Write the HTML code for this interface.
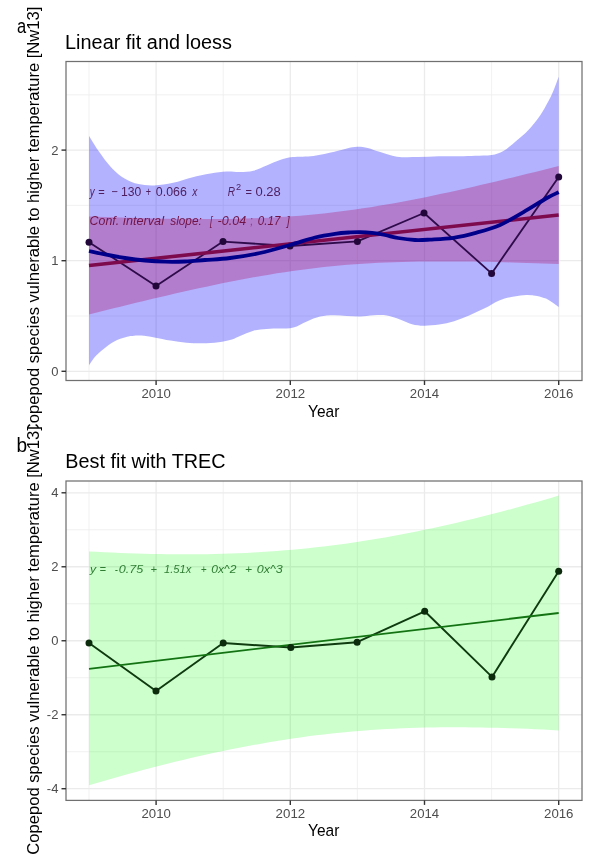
<!DOCTYPE html>
<html><head><meta charset="utf-8"><style>
html,body{margin:0;padding:0;background:#fff;}
svg{display:block;font-family:"Liberation Sans",sans-serif;will-change:transform;}
.mn{stroke:#EEEEEE;stroke-width:0.8;}
.mj{stroke:#EBEBEB;stroke-width:1.3;}
.border{fill:none;stroke:#707070;stroke-width:1.25;}
.tick{stroke:#333333;stroke-width:1.4;}
.tl{font-size:13px;fill:#4D4D4D;}
.at{font-size:16.3px;fill:#000;}
.yt{font-size:16.5px;fill:#000;}
.title{font-size:19.5px;fill:#000;}
.tag{font-size:19.5px;fill:#000;}
.eqa{fill:#4E1E5E;}
.conf{fill:#701448;}
.eqb{fill:#2E7D32;}
</style></head><body>
<svg width="599" height="856" viewBox="0 0 599 856">
<defs><clipPath id="ca"><rect x="0" y="0" width="599" height="428"/></clipPath></defs>
<rect x="0" y="0" width="599" height="856" fill="#fff"/>
<g>
<line x1="89.00" y1="61.50" x2="89.00" y2="380.50" class="mn"/>
<line x1="223.20" y1="61.50" x2="223.20" y2="380.50" class="mn"/>
<line x1="357.40" y1="61.50" x2="357.40" y2="380.50" class="mn"/>
<line x1="491.60" y1="61.50" x2="491.60" y2="380.50" class="mn"/>
<line x1="66.00" y1="316.00" x2="582.00" y2="316.00" class="mn"/>
<line x1="66.00" y1="205.40" x2="582.00" y2="205.40" class="mn"/>
<line x1="66.00" y1="94.80" x2="582.00" y2="94.80" class="mn"/>
<line x1="156.10" y1="61.50" x2="156.10" y2="380.50" class="mj"/>
<line x1="290.30" y1="61.50" x2="290.30" y2="380.50" class="mj"/>
<line x1="424.50" y1="61.50" x2="424.50" y2="380.50" class="mj"/>
<line x1="558.70" y1="61.50" x2="558.70" y2="380.50" class="mj"/>
<line x1="66.00" y1="371.30" x2="582.00" y2="371.30" class="mj"/>
<line x1="66.00" y1="260.70" x2="582.00" y2="260.70" class="mj"/>
<line x1="66.00" y1="150.10" x2="582.00" y2="150.10" class="mj"/>
<path d="M89.00,136.00 C90.57,138.45 94.62,145.37 98.40,150.70 C102.18,156.03 107.27,163.32 111.70,168.00 C116.13,172.68 120.55,176.12 125.00,178.80 C129.45,181.48 133.50,183.00 138.40,184.10 C143.30,185.20 148.62,185.62 154.40,185.40 C160.18,185.18 166.87,184.13 173.10,182.80 C179.33,181.47 185.57,178.97 191.80,177.40 C198.03,175.83 204.70,174.38 210.50,173.40 C216.30,172.42 221.68,171.72 226.60,171.50 C231.52,171.28 235.53,172.23 240.00,172.10 C244.47,171.97 248.95,171.82 253.40,170.70 C257.85,169.58 262.27,167.18 266.70,165.40 C271.13,163.62 275.68,161.38 280.00,160.00 C284.32,158.62 287.02,157.78 292.60,157.10 C298.18,156.42 306.55,156.80 313.50,155.90 C320.45,155.00 328.73,152.95 334.30,151.70 C339.87,150.45 343.07,149.23 346.90,148.40 C350.73,147.57 353.83,146.78 357.30,146.70 C360.77,146.62 363.87,147.00 367.70,147.90 C371.53,148.80 375.43,150.63 380.30,152.10 C385.17,153.57 390.65,155.87 396.90,156.70 C403.15,157.53 410.83,157.17 417.80,157.10 C424.77,157.03 431.75,156.43 438.70,156.30 C445.65,156.17 453.43,156.38 459.50,156.30 C465.57,156.22 469.73,156.02 475.10,155.80 C480.47,155.58 486.98,155.80 491.70,155.00 C496.42,154.20 499.23,153.42 503.40,151.00 C507.57,148.58 512.53,143.98 516.70,140.50 C520.87,137.02 524.50,134.27 528.40,130.10 C532.30,125.93 536.75,120.35 540.10,115.50 C543.45,110.65 546.27,105.17 548.50,101.00 C550.73,96.83 551.80,94.55 553.50,90.50 C555.20,86.45 557.83,79.00 558.70,76.70 L558.70,307.10 C557.67,306.35 554.62,304.02 552.50,302.60 C550.38,301.18 548.58,299.72 546.00,298.60 C543.42,297.48 540.30,296.52 537.00,295.90 C533.70,295.28 530.00,294.82 526.20,294.90 C522.40,294.98 518.70,295.48 514.20,296.40 C509.70,297.32 504.22,298.37 499.20,300.40 C494.18,302.43 489.12,306.08 484.10,308.60 C479.08,311.12 474.10,313.40 469.10,315.50 C464.10,317.60 459.10,319.70 454.10,321.20 C449.10,322.70 444.12,323.75 439.10,324.50 C434.08,325.25 428.52,325.75 424.00,325.70 C419.48,325.65 416.00,325.23 412.00,324.20 C408.00,323.17 404.18,320.95 400.00,319.50 C395.82,318.05 391.32,316.20 386.90,315.50 C382.48,314.80 377.95,315.12 373.50,315.30 C369.05,315.48 364.65,316.47 360.20,316.60 C355.75,316.73 351.25,316.32 346.80,316.10 C342.35,315.88 337.95,315.22 333.50,315.30 C329.05,315.38 324.55,315.58 320.10,316.60 C315.65,317.62 311.25,319.58 306.80,321.40 C302.35,323.22 297.87,326.30 293.40,327.50 C288.93,328.70 284.45,328.37 280.00,328.60 C275.55,328.83 271.13,328.55 266.70,328.90 C262.27,329.25 257.85,329.50 253.40,330.70 C248.95,331.90 243.58,334.63 240.00,336.10 C236.42,337.57 235.48,338.48 231.90,339.50 C228.32,340.52 223.40,341.57 218.50,342.20 C213.60,342.83 207.83,343.22 202.50,343.30 C197.17,343.38 191.83,343.15 186.50,342.70 C181.17,342.25 175.85,341.48 170.50,340.60 C165.15,339.72 159.30,338.25 154.40,337.40 C149.50,336.55 145.10,335.72 141.10,335.50 C137.10,335.28 134.40,335.33 130.40,336.10 C126.40,336.87 121.10,338.33 117.10,340.10 C113.10,341.87 109.97,344.03 106.40,346.70 C102.83,349.37 98.60,352.98 95.70,356.10 C92.80,359.22 90.12,363.85 89.00,365.40 Z" fill="#0000FF" fill-opacity="0.3"/>
<path d="M89.00,216.51 L96.83,216.80 L104.66,217.09 L112.48,217.36 L120.31,217.61 L128.14,217.85 L135.97,218.08 L143.80,218.28 L151.63,218.47 L159.45,218.64 L167.28,218.78 L175.11,218.90 L182.94,219.00 L190.77,219.07 L198.60,219.10 L206.42,219.11 L214.25,219.08 L222.08,219.01 L229.91,218.90 L237.74,218.75 L245.57,218.55 L253.40,218.31 L261.22,218.01 L269.05,217.65 L276.88,217.24 L284.71,216.77 L292.54,216.23 L300.37,215.63 L308.19,214.96 L316.02,214.22 L323.85,213.42 L331.68,212.54 L339.51,211.59 L347.33,210.58 L355.16,209.50 L362.99,208.35 L370.82,207.14 L378.65,205.87 L386.48,204.54 L394.30,203.16 L402.13,201.72 L409.96,200.23 L417.79,198.70 L425.62,197.13 L433.45,195.51 L441.27,193.86 L449.10,192.17 L456.93,190.45 L464.76,188.70 L472.59,186.92 L480.42,185.12 L488.25,183.29 L496.07,181.44 L503.90,179.57 L511.73,177.68 L519.56,175.77 L527.39,173.85 L535.22,171.91 L543.04,169.95 L550.87,167.99 L558.70,166.01 L558.70,263.99 L550.87,263.70 L543.04,263.41 L535.22,263.14 L527.39,262.89 L519.56,262.65 L511.73,262.42 L503.90,262.22 L496.07,262.03 L488.25,261.86 L480.42,261.72 L472.59,261.60 L464.76,261.50 L456.93,261.43 L449.10,261.40 L441.27,261.39 L433.45,261.42 L425.62,261.49 L417.79,261.60 L409.96,261.75 L402.13,261.95 L394.30,262.19 L386.48,262.49 L378.65,262.85 L370.82,263.26 L362.99,263.73 L355.16,264.27 L347.33,264.87 L339.51,265.54 L331.68,266.28 L323.85,267.08 L316.02,267.96 L308.19,268.91 L300.37,269.92 L292.54,271.00 L284.71,272.15 L276.88,273.36 L269.05,274.63 L261.22,275.96 L253.40,277.34 L245.57,278.78 L237.74,280.27 L229.91,281.80 L222.08,283.37 L214.25,284.99 L206.42,286.64 L198.60,288.33 L190.77,290.05 L182.94,291.80 L175.11,293.58 L167.28,295.38 L159.45,297.21 L151.63,299.06 L143.80,300.93 L135.97,302.82 L128.14,304.73 L120.31,306.65 L112.48,308.59 L104.66,310.55 L96.83,312.51 L89.00,314.49 Z" fill="#B6025A" fill-opacity="0.3"/>
<text x="89.86" y="195.50" font-size="12.50" textLength="4.86" lengthAdjust="spacingAndGlyphs" class="eqa" font-style="italic">y</text>
<text x="98.27" y="195.50" font-size="12.50" textLength="6.47" lengthAdjust="spacingAndGlyphs" class="eqa">=</text>
<text x="111.24" y="195.50" font-size="12.50" textLength="6.50" lengthAdjust="spacingAndGlyphs" class="eqa">−</text>
<text x="120.99" y="195.50" font-size="12.50" textLength="20.28" lengthAdjust="spacingAndGlyphs" class="eqa">130</text>
<text x="145.87" y="195.50" font-size="12.50" textLength="5.27" lengthAdjust="spacingAndGlyphs" class="eqa">+</text>
<text x="155.80" y="195.50" font-size="12.50" textLength="31.02" lengthAdjust="spacingAndGlyphs" class="eqa">0.066</text>
<text x="192.31" y="195.50" font-size="12.50" textLength="5.11" lengthAdjust="spacingAndGlyphs" class="eqa" font-style="italic">x</text>
<text x="227.70" y="195.50" font-size="12.50" textLength="7.30" lengthAdjust="spacingAndGlyphs" class="eqa" font-style="italic">R</text>
<text x="236.14" y="190.00" font-size="9.00" textLength="5.13" lengthAdjust="spacingAndGlyphs" class="eqa">2</text>
<text x="245.47" y="195.50" font-size="12.50" textLength="6.47" lengthAdjust="spacingAndGlyphs" class="eqa">=</text>
<text x="255.48" y="195.50" font-size="12.50" textLength="25.19" lengthAdjust="spacingAndGlyphs" class="eqa">0.28</text>
<text x="89.62" y="224.50" font-size="12.30" textLength="29.60" lengthAdjust="spacingAndGlyphs" class="conf" font-style="italic">Conf.</text>
<text x="123.11" y="224.50" font-size="12.30" textLength="40.89" lengthAdjust="spacingAndGlyphs" class="conf" font-style="italic">interval</text>
<text x="170.27" y="224.50" font-size="12.30" textLength="31.51" lengthAdjust="spacingAndGlyphs" class="conf" font-style="italic">slope:</text>
<text x="209.98" y="224.50" font-size="12.30" textLength="2.49" lengthAdjust="spacingAndGlyphs" class="conf" font-style="italic">[</text>
<text x="217.64" y="224.50" font-size="12.30" textLength="28.55" lengthAdjust="spacingAndGlyphs" class="conf" font-style="italic">-0.04</text>
<text x="250.56" y="224.50" font-size="12.30" textLength="1.98" lengthAdjust="spacingAndGlyphs" class="conf" font-style="italic">;</text>
<text x="257.81" y="224.50" font-size="12.30" textLength="22.53" lengthAdjust="spacingAndGlyphs" class="conf" font-style="italic">0.17</text>
<text x="286.65" y="224.50" font-size="12.30" textLength="2.85" lengthAdjust="spacingAndGlyphs" class="conf" font-style="italic">]</text>
<polyline points="89.00,242.20 156.00,286.00 223.00,241.60 290.00,246.00 357.40,241.40 424.00,213.00 491.60,273.40 558.70,176.90" fill="none" stroke="#2E0B4A" stroke-width="1.8" stroke-linejoin="round"/>
<circle cx="89.00" cy="242.20" r="3.5" fill="#22083A"/>
<circle cx="156.00" cy="286.00" r="3.5" fill="#22083A"/>
<circle cx="223.00" cy="241.60" r="3.5" fill="#22083A"/>
<circle cx="290.00" cy="246.00" r="3.5" fill="#22083A"/>
<circle cx="357.40" cy="241.40" r="3.5" fill="#22083A"/>
<circle cx="424.00" cy="213.00" r="3.5" fill="#22083A"/>
<circle cx="491.60" cy="273.40" r="3.5" fill="#22083A"/>
<circle cx="558.70" cy="176.90" r="3.5" fill="#22083A"/>
<path d="M89.00,265.50 L558.70,215.00" stroke="#7D0A4D" stroke-width="3.6" fill="none"/>
<path d="M89.00,251.00 C91.67,251.57 99.00,253.23 105.00,254.40 C111.00,255.57 118.32,256.98 125.00,258.00 C131.68,259.02 138.40,259.88 145.10,260.50 C151.80,261.12 158.52,261.53 165.20,261.70 C171.88,261.87 178.57,261.78 185.20,261.50 C191.83,261.22 197.53,260.58 205.00,260.00 C212.47,259.42 220.83,259.17 230.00,258.00 C239.17,256.83 250.00,255.17 260.00,253.00 C270.00,250.83 280.83,247.58 290.00,245.00 C299.17,242.42 307.50,239.37 315.00,237.50 C322.50,235.63 329.17,234.65 335.00,233.80 C340.83,232.95 345.83,232.68 350.00,232.40 C354.17,232.12 356.33,232.02 360.00,232.10 C363.67,232.18 367.83,232.42 372.00,232.90 C376.17,233.38 380.67,234.15 385.00,235.00 C389.33,235.85 393.00,237.17 398.00,238.00 C403.00,238.83 409.67,239.73 415.00,240.00 C420.33,240.27 423.60,239.97 430.00,239.60 C436.40,239.23 445.62,238.97 453.40,237.80 C461.18,236.63 468.92,234.75 476.70,232.60 C484.48,230.45 492.30,228.32 500.10,224.90 C507.90,221.48 515.70,216.58 523.50,212.10 C531.30,207.62 541.03,201.32 546.90,198.00 C552.77,194.68 556.73,193.17 558.70,192.20" fill="none" stroke="#00008B" stroke-width="3.8"/>
<rect x="66.00" y="61.50" width="516.00" height="319.00" class="border"/>
<line x1="156.10" y1="380.50" x2="156.10" y2="385.00" class="tick"/>
<text x="141.44" y="398.00" font-size="13.40" textLength="29.38" lengthAdjust="spacingAndGlyphs" class="tl">2010</text>
<line x1="290.30" y1="380.50" x2="290.30" y2="385.00" class="tick"/>
<text x="275.64" y="398.00" font-size="13.40" textLength="29.56" lengthAdjust="spacingAndGlyphs" class="tl">2012</text>
<line x1="424.50" y1="380.50" x2="424.50" y2="385.00" class="tick"/>
<text x="409.84" y="398.00" font-size="13.40" textLength="29.25" lengthAdjust="spacingAndGlyphs" class="tl">2014</text>
<line x1="558.70" y1="380.50" x2="558.70" y2="385.00" class="tick"/>
<text x="544.04" y="398.00" font-size="13.40" textLength="29.45" lengthAdjust="spacingAndGlyphs" class="tl">2016</text>
<line x1="61.50" y1="371.30" x2="66.00" y2="371.30" class="tick"/>
<text x="58.40" y="376.00" class="tl" font-size="13.4" text-anchor="end">0</text>
<line x1="61.50" y1="260.70" x2="66.00" y2="260.70" class="tick"/>
<text x="58.40" y="265.40" class="tl" font-size="13.4" text-anchor="end">1</text>
<line x1="61.50" y1="150.10" x2="66.00" y2="150.10" class="tick"/>
<text x="58.40" y="154.80" class="tl" font-size="13.4" text-anchor="end">2</text>
<text x="308.05" y="416.50" font-size="16.30" textLength="31.29" lengthAdjust="spacingAndGlyphs" class="at">Year</text>
<text x="65.06" y="48.80" font-size="20.00" textLength="166.92" lengthAdjust="spacingAndGlyphs" class="title">Linear fit and loess</text>
<g clip-path="url(#ca)"><text transform="translate(38.50,435.13) rotate(-90)" x="0" y="0" font-size="16.50" textLength="428.48" lengthAdjust="spacingAndGlyphs" class="yt">Copepod species vulnerable to higher temperature [Nw13]</text></g>
</g>
<rect x="0" y="428" width="599" height="428" fill="#fff"/>
<line x1="89.00" y1="481.00" x2="89.00" y2="800.40" class="mn"/>
<line x1="223.20" y1="481.00" x2="223.20" y2="800.40" class="mn"/>
<line x1="357.40" y1="481.00" x2="357.40" y2="800.40" class="mn"/>
<line x1="491.60" y1="481.00" x2="491.60" y2="800.40" class="mn"/>
<line x1="66.00" y1="751.72" x2="582.00" y2="751.72" class="mn"/>
<line x1="66.00" y1="677.74" x2="582.00" y2="677.74" class="mn"/>
<line x1="66.00" y1="603.76" x2="582.00" y2="603.76" class="mn"/>
<line x1="66.00" y1="529.78" x2="582.00" y2="529.78" class="mn"/>
<line x1="156.10" y1="481.00" x2="156.10" y2="800.40" class="mj"/>
<line x1="290.30" y1="481.00" x2="290.30" y2="800.40" class="mj"/>
<line x1="424.50" y1="481.00" x2="424.50" y2="800.40" class="mj"/>
<line x1="558.70" y1="481.00" x2="558.70" y2="800.40" class="mj"/>
<line x1="66.00" y1="788.71" x2="582.00" y2="788.71" class="mj"/>
<line x1="66.00" y1="714.73" x2="582.00" y2="714.73" class="mj"/>
<line x1="66.00" y1="640.75" x2="582.00" y2="640.75" class="mj"/>
<line x1="66.00" y1="566.77" x2="582.00" y2="566.77" class="mj"/>
<line x1="66.00" y1="492.79" x2="582.00" y2="492.79" class="mj"/>
<path d="M89.00,551.40 L96.83,551.83 L104.66,552.24 L112.48,552.61 L120.31,552.95 L128.14,553.25 L135.97,553.52 L143.80,553.75 L151.63,553.94 L159.45,554.10 L167.28,554.22 L175.11,554.29 L182.94,554.32 L190.77,554.31 L198.60,554.25 L206.42,554.15 L214.25,554.00 L222.08,553.80 L229.91,553.56 L237.74,553.26 L245.57,552.91 L253.40,552.51 L261.22,552.05 L269.05,551.54 L276.88,550.98 L284.71,550.36 L292.54,549.69 L300.37,548.96 L308.19,548.17 L316.02,547.32 L323.85,546.42 L331.68,545.46 L339.51,544.45 L347.33,543.38 L355.16,542.25 L362.99,541.06 L370.82,539.82 L378.65,538.52 L386.48,537.17 L394.30,535.77 L402.13,534.31 L409.96,532.80 L417.79,531.24 L425.62,529.62 L433.45,527.96 L441.27,526.25 L449.10,524.49 L456.93,522.69 L464.76,520.84 L472.59,518.95 L480.42,517.02 L488.25,515.04 L496.07,513.02 L503.90,510.97 L511.73,508.88 L519.56,506.75 L527.39,504.59 L535.22,502.39 L543.04,500.16 L550.87,497.89 L558.70,495.60 L558.70,730.40 L550.87,729.97 L543.04,729.56 L535.22,729.19 L527.39,728.85 L519.56,728.55 L511.73,728.28 L503.90,728.05 L496.07,727.86 L488.25,727.68 L480.42,727.52 L472.59,727.40 L464.76,727.32 L456.93,727.28 L449.10,727.29 L441.27,727.35 L433.45,727.45 L425.62,727.60 L417.79,727.80 L409.96,728.06 L402.13,728.36 L394.30,728.71 L386.48,729.12 L378.65,729.58 L370.82,730.10 L362.99,730.67 L355.16,731.30 L347.33,731.98 L339.51,732.73 L331.68,733.52 L323.85,734.38 L316.02,735.34 L308.19,736.35 L300.37,737.42 L292.54,738.55 L284.71,739.74 L276.88,740.98 L269.05,742.28 L261.22,743.63 L253.40,745.03 L245.57,746.49 L237.74,748.00 L229.91,749.56 L222.08,751.18 L214.25,752.84 L206.42,754.55 L198.60,756.31 L190.77,758.11 L182.94,759.96 L175.11,761.85 L167.28,763.78 L159.45,765.76 L151.63,767.78 L143.80,769.83 L135.97,771.92 L128.14,774.05 L120.31,776.21 L112.48,778.41 L104.66,780.64 L96.83,782.91 L89.00,785.20 Z" fill="#00FF00" fill-opacity="0.2"/>
<text x="90.00" y="572.60" font-size="11.60" textLength="6.09" lengthAdjust="spacingAndGlyphs" class="eqb" font-style="italic">y</text>
<text x="99.61" y="572.60" font-size="11.60" textLength="6.47" lengthAdjust="spacingAndGlyphs" class="eqb" font-style="italic">=</text>
<text x="114.81" y="572.60" font-size="11.60" textLength="3.10" lengthAdjust="spacingAndGlyphs" class="eqb" font-style="italic">-</text>
<text x="118.77" y="572.60" font-size="11.60" textLength="24.42" lengthAdjust="spacingAndGlyphs" class="eqb" font-style="italic">0.75</text>
<text x="150.61" y="572.60" font-size="11.60" textLength="6.47" lengthAdjust="spacingAndGlyphs" class="eqb" font-style="italic">+</text>
<text x="164.02" y="572.60" font-size="11.60" textLength="27.36" lengthAdjust="spacingAndGlyphs" class="eqb" font-style="italic">1.51x</text>
<text x="200.67" y="572.60" font-size="11.60" textLength="5.87" lengthAdjust="spacingAndGlyphs" class="eqb" font-style="italic">+</text>
<text x="211.29" y="572.60" font-size="11.60" textLength="25.08" lengthAdjust="spacingAndGlyphs" class="eqb" font-style="italic">0x^2</text>
<text x="245.04" y="572.60" font-size="11.60" textLength="7.07" lengthAdjust="spacingAndGlyphs" class="eqb" font-style="italic">+</text>
<text x="256.77" y="572.60" font-size="11.60" textLength="26.05" lengthAdjust="spacingAndGlyphs" class="eqb" font-style="italic">0x^3</text>
<polyline points="89.00,643.00 156.00,691.00 223.20,643.00 290.80,647.50 357.10,642.20 424.70,611.30 492.00,676.90 558.70,571.30" fill="none" stroke="#0F3A0F" stroke-width="1.9" stroke-linejoin="round"/>
<path d="M89.00,668.80 L558.70,613.00" stroke="#137313" stroke-width="1.8" fill="none"/>
<circle cx="89.00" cy="643.00" r="3.5" fill="#0C2A0C"/>
<circle cx="156.00" cy="691.00" r="3.5" fill="#0C2A0C"/>
<circle cx="223.20" cy="643.00" r="3.5" fill="#0C2A0C"/>
<circle cx="290.80" cy="647.50" r="3.5" fill="#0C2A0C"/>
<circle cx="357.10" cy="642.20" r="3.5" fill="#0C2A0C"/>
<circle cx="424.70" cy="611.30" r="3.5" fill="#0C2A0C"/>
<circle cx="492.00" cy="676.90" r="3.5" fill="#0C2A0C"/>
<circle cx="558.70" cy="571.30" r="3.5" fill="#0C2A0C"/>
<rect x="66.00" y="481.00" width="516.00" height="319.40" class="border"/>
<line x1="156.10" y1="800.40" x2="156.10" y2="804.90" class="tick"/>
<text x="141.44" y="817.60" font-size="13.40" textLength="29.38" lengthAdjust="spacingAndGlyphs" class="tl">2010</text>
<line x1="290.30" y1="800.40" x2="290.30" y2="804.90" class="tick"/>
<text x="275.64" y="817.60" font-size="13.40" textLength="29.56" lengthAdjust="spacingAndGlyphs" class="tl">2012</text>
<line x1="424.50" y1="800.40" x2="424.50" y2="804.90" class="tick"/>
<text x="409.84" y="817.60" font-size="13.40" textLength="29.25" lengthAdjust="spacingAndGlyphs" class="tl">2014</text>
<line x1="558.70" y1="800.40" x2="558.70" y2="804.90" class="tick"/>
<text x="544.04" y="817.60" font-size="13.40" textLength="29.45" lengthAdjust="spacingAndGlyphs" class="tl">2016</text>
<line x1="61.50" y1="788.71" x2="66.00" y2="788.71" class="tick"/>
<text x="58.40" y="793.41" class="tl" font-size="13.4" text-anchor="end">-4</text>
<line x1="61.50" y1="714.73" x2="66.00" y2="714.73" class="tick"/>
<text x="58.40" y="719.43" class="tl" font-size="13.4" text-anchor="end">-2</text>
<line x1="61.50" y1="640.75" x2="66.00" y2="640.75" class="tick"/>
<text x="58.40" y="645.45" class="tl" font-size="13.4" text-anchor="end">0</text>
<line x1="61.50" y1="566.77" x2="66.00" y2="566.77" class="tick"/>
<text x="58.40" y="571.47" class="tl" font-size="13.4" text-anchor="end">2</text>
<line x1="61.50" y1="492.79" x2="66.00" y2="492.79" class="tick"/>
<text x="58.40" y="497.49" class="tl" font-size="13.4" text-anchor="end">4</text>
<text x="308.05" y="836.10" font-size="16.30" textLength="31.29" lengthAdjust="spacingAndGlyphs" class="at">Year</text>
<text x="65.37" y="468.40" font-size="20.00" textLength="160.28" lengthAdjust="spacingAndGlyphs" class="title">Best fit with TREC</text>
<text transform="translate(38.50,854.63) rotate(-90)" x="0" y="0" font-size="16.50" textLength="428.48" lengthAdjust="spacingAndGlyphs" class="yt">Copepod species vulnerable to higher temperature [Nw13]</text>
<text x="17.10" y="32.60" font-size="19.50" textLength="9.18" lengthAdjust="spacingAndGlyphs" class="tag">a</text>
<text x="16.56" y="452.00" font-size="19.50" textLength="10.63" lengthAdjust="spacingAndGlyphs" class="tag">b</text>
</svg>
</body></html>
